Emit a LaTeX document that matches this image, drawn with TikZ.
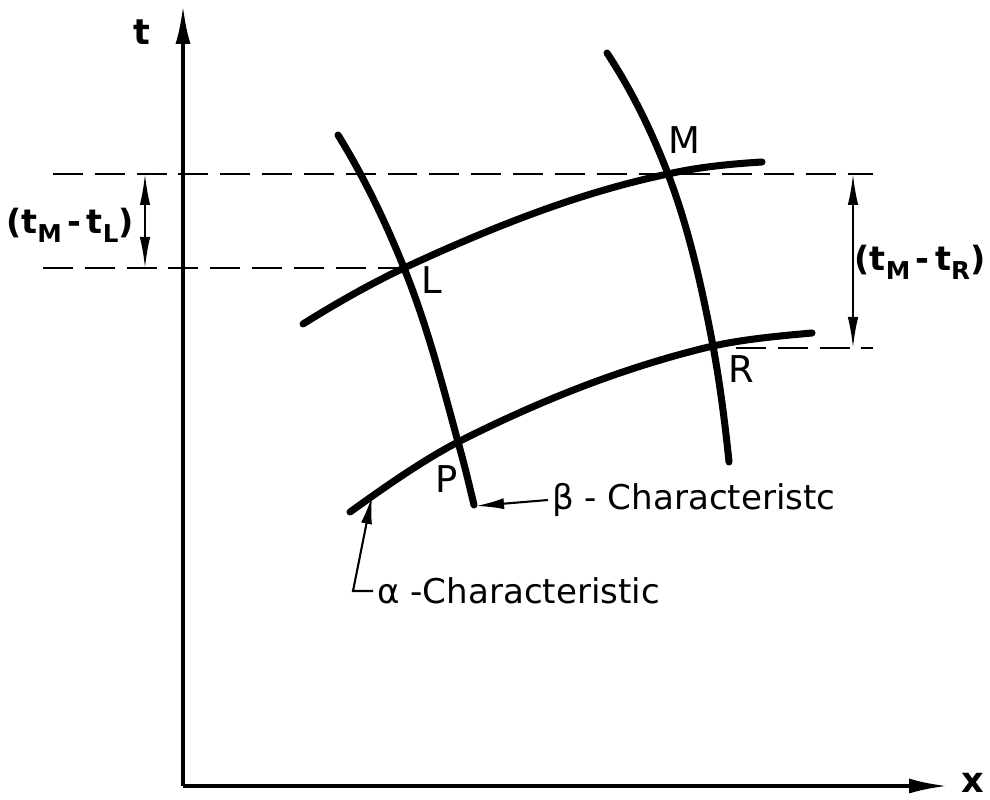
\documentclass[tikz,border=0pt]{standalone}
\usepackage{fontspec}
\setmainfont{DejaVu Sans}
\usetikzlibrary{arrows.meta, positioning, calc}
\newcommand{\tsub}[1]{\raisebox{-0.5ex}{\scriptsize #1}}

\begin{document}
\begin{tikzpicture}[x=0.1mm, y=-0.1mm, >={Latex[length=3.1mm,width=1.05mm]}]
  \tikzset{charline/.style={line width=2pt, line cap=round},
    axisline/.style={line width=1pt, -{Latex[length=3.8mm,width=1.5mm]}},
    guide/.style={line width=0.8pt, dash pattern=on 8.5pt off 3.4pt},
    dimline/.style={line width=0.6pt, <->},
    leader/.style={line width=0.6pt, -{Latex[length=2.8mm,width=1.1mm]}},
    ptlabel/.style={font=\fontsize{10.5}{12}\selectfont},
    dimlabel/.style={font=\fontsize{9.5}{11}\selectfont\bfseries},
    txtlabel/.style={font=\fontsize{9.7}{11}\selectfont, anchor=west, inner sep=1pt}}
  \useasboundingbox (0,0) rectangle (990,800);
  % axes
  \coordinate (O) at (183,786);
  \coordinate (tend) at (183,6);
  \coordinate (xend) at (947,786);
  \draw[axisline] (O) -- (tend);
  \draw[axisline] (O) -- (xend);
  \node[font=\bfseries] (tlab) at (142,32) {t};
  \node[font=\bfseries] (xlab) at (973,783) {x};
  % mesh points
  \coordinate (L) at (404,268);
  \coordinate (M) at (668,174);
  \coordinate (R) at (713,346);
  \coordinate (P) at (458,442);
  \draw[charline] (303,324) .. controls (335,304) and (370,284) .. (L)
    .. controls (488,229) and (577,193) .. (M)
    .. controls (699,167) and (730,164) .. (762,162);
  \draw[charline] (350,512) .. controls (385,487) and (420,462) .. (P)
    .. controls (539,401) and (624,367) .. (R)
    .. controls (745,339) and (779,336) .. (812,333);
  \draw[charline] (338,135) .. controls (364,177) and (386,223) .. (L)
    .. controls (427,325) and (442,383) .. (P)
    .. controls (464,463) and (469,484) .. (474,505);
  \draw[charline] (607,53) .. controls (632,91) and (652,132) .. (M)
    .. controls (689,229) and (702,288) .. (R)
    .. controls (720,384) and (725,423) .. (729,462);
  \node[ptlabel] (Llab) at (432,280) {L};
  \node[ptlabel] (Mlab) at (684,140) {M};
  \node[ptlabel] (Rlab) at (741,369) {R};
  \node[ptlabel] (Plab) at (447,479) {P};
  % time differences
  \coordinate (gtl) at (53,174);
  \coordinate (gtr) at (873,174);
  \coordinate (gml) at (43,268);
  \coordinate (grl) at (736,348);
  \coordinate (grr) at (873,348);
  \draw[guide] (gtl) -- (gtr);
  \draw[guide] (gml) -- (L);
  \draw[guide] (grl) -- (grr);
  \coordinate (dl1) at (145,174);
  \coordinate (dl2) at (145,268);
  \coordinate (dr1) at (853,174);
  \coordinate (dr2) at (853,348);
  \draw[dimline] (dl1) -- (dl2);
  \draw[dimline] (dr1) -- (dr2);
  \node[dimlabel] (dtl) at (70,225) {(t\tsub{M}\,-\,t\tsub{L})};
  \node[dimlabel] (dtr) at (920,262) {(t\tsub{M}\,-\,t\tsub{R})};
  % characteristic labels
  \node[txtlabel] (beta) at (548,500) {β - Characteristc};
  \node[txtlabel] (alpha) at (373,591) {α -Characteristic};
  \coordinate (bhit) at (476,506);
  \coordinate (ahit) at (372,496);
  \coordinate (acorner) at (353,591);
  \draw[leader] (beta.west) -- (bhit);
  \draw[leader] (alpha.west) -- (acorner) -- (ahit);
\end{tikzpicture}
\end{document}
